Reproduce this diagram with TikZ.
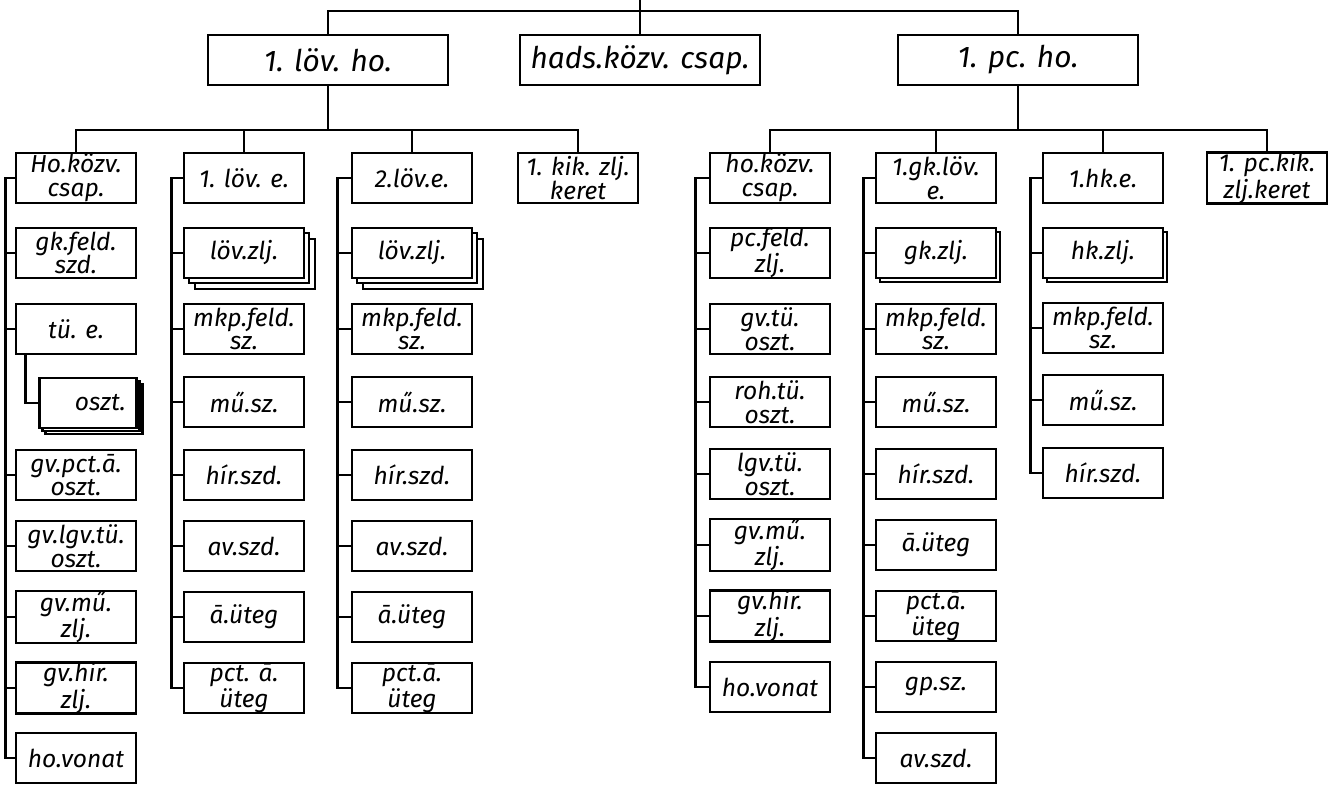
\documentclass[tikz,border=0pt]{standalone}
\usepackage{fontspec}
\setmainfont{Fira Sans}
\usetikzlibrary{shadows}
\tikzset{
  unitbox/.style={rectangle, draw, fill=white, line width=1.6pt,
                  minimum width=2.4cm, minimum height=1cm, inner sep=0pt,
                  align=center, font=\fontsize{14}{13.5}\selectfont\itshape},
  hqbox/.style={unitbox, minimum width=4.8cm,
                font=\fontsize{17}{17}\selectfont\itshape},
  % stacked boxes (several sub-units of the same kind)
  stackbox/.style={unitbox,
                   copy shadow={shadow xshift=2.2mm, shadow yshift=-2.2mm,
                                draw, fill=white, line width=1.6pt},
                   copy shadow={shadow xshift=1mm, shadow yshift=-1mm,
                                draw, fill=white, line width=1.6pt}},
  smallstack/.style={unitbox,
                   copy shadow={shadow xshift=1.2mm, shadow yshift=-1.2mm,
                                draw, fill=white, line width=1.6pt},
                   copy shadow={shadow xshift=0.6mm, shadow yshift=-0.6mm,
                                draw, fill=white, line width=1.6pt}},
  onestack/.style={unitbox,
                   copy shadow={shadow xshift=0.8mm, shadow yshift=-0.8mm,
                                draw, fill=white, line width=1.6pt}},
  link/.style={line width=1.6pt},
}

\begin{document}
\begin{tikzpicture}[x=0.02cm, y=-0.02cm]
  \useasboundingbox (0,0) rectangle (1328,784);

  % Top level
  \node (lovho) at (328,60) [hqbox] {1. löv. ho.};
  \node (hads) at (640,60) [hqbox] {hads.közv. csap.};
  \node (pcho) at (1018,60) [hqbox] {1. pc. ho.};

  \coordinate (root) at (640,0);
  \coordinate (topbar) at (640,11);
  \draw[link] (root) -- (hads.north);
  \draw[link] (lovho.north) |- (topbar) -| (pcho.north);

  % 1. löv. ho. -- first column
  \node (hokozv) at (76,178) [unitbox] {Ho.közv.\\csap.};
  \node (gkfeld) at (76,253) [unitbox] {gk.feld.\\szd.};
  \node (tue) at (76,329) [unitbox] {tü. e.};
  \node (oszt) at (88,403) [smallstack, minimum width=1.94cm] {\quad oszt.};
  \node (gvpct) at (76,475) [unitbox] {gv.pct.ā.\\oszt.};
  \node (gvlgv) at (76,546) [unitbox] {gv.lgv.tü.\\oszt.};
  \node (gvmu) at (76,617) [unitbox] {gv.mű.\\zlj.};
  \node (gvhir) at (76,688) [unitbox] {gv.hir.\\zlj.};
  \node (hovon) at (76,758) [unitbox] {ho.vonat};

  % 1. löv. e.
  \node (love1) at (244,178) [unitbox] {1. löv. e.};
  \node (lovzlj1) at (244,253) [stackbox] {löv.zlj.};
  \node (mkp1) at (244,329) [unitbox] {mkp.feld.\\sz.};
  \node (musz1) at (244,402) [unitbox] {mű.sz.};
  \node (hir1) at (244,475) [unitbox] {hír.szd.};
  \node (av1) at (244,546) [unitbox] {av.szd.};
  \node (aut1) at (244,617) [unitbox] {ā.üteg};
  \node (pct1) at (244,688) [unitbox] {pct. ā.\\üteg};

  % 2. löv. e.
  \node (love2) at (412,178) [unitbox] {2.löv.e.};
  \node (lovzlj2) at (412,253) [stackbox] {löv.zlj.};
  \node (mkp2) at (412,329) [unitbox] {mkp.feld.\\sz.};
  \node (musz2) at (412,402) [unitbox] {mű.sz.};
  \node (hir2) at (412,475) [unitbox] {hír.szd.};
  \node (av2) at (412,546) [unitbox] {av.szd.};
  \node (aut2) at (412,617) [unitbox] {ā.üteg};
  \node (pct2) at (412,688) [unitbox] {pct.ā.\\üteg};

  \node (kik) at (578,178) [unitbox] {1. kik. zlj.\\keret};

  % 1. pc. ho. -- first column
  \node (hokozv2) at (770,178) [unitbox] {ho.közv.\\csap.};
  \node (pcfeld) at (770,253) [unitbox] {pc.feld.\\zlj.};
  \node (gvtu) at (770,329) [unitbox] {gv.tü.\\oszt.};
  \node (rohtu) at (770,402) [unitbox] {roh.tü.\\oszt.};
  \node (lgvtu) at (770,474) [unitbox] {lgv.tü.\\oszt.};
  \node (gvmu2) at (770,545) [unitbox] {gv.mű.\\zlj.};
  \node (gvhir2) at (770,616) [unitbox] {gv.hir.\\zlj.};
  \node (hovon2) at (770,687) [unitbox] {ho.vonat};

  % 1. gk. löv. e.
  \node (gklove) at (936,178) [unitbox] {1.gk.löv.\\e.};
  \node (gkzlj) at (936,253) [onestack] {gk.zlj.};
  \node (mkp3) at (936,329) [unitbox] {mkp.feld.\\sz.};
  \node (musz3) at (936,402) [unitbox] {mű.sz.};
  \node (hir3) at (936,474) [unitbox] {hír.szd.};
  \node (aut3) at (936,545) [unitbox] {ā.üteg};
  \node (pct3) at (936,616) [unitbox] {pct.ā.\\üteg};
  \node (gpsz) at (936,687) [unitbox] {gp.sz.};
  \node (av3) at (936,758) [unitbox] {av.szd.};

  % 1. hk. e.
  \node (hke) at (1103,178) [unitbox] {1.hk.e.};
  \node (hkzlj) at (1103,253) [onestack] {hk.zlj.};
  \node (mkp4) at (1103,328) [unitbox] {mkp.feld.\\sz.};
  \node (musz4) at (1103,400) [unitbox] {mű.sz.};
  \node (hir4) at (1103,473) [unitbox] {hír.szd.};

  \node (pckik) at (1267,178) [unitbox] {1. pc.kik.\\zlj.keret};

  % Second level bars
  \coordinate (lovbar) at (328,130);
  \coordinate (pcbar) at (1018,130);
  \draw[link] (lovho.south) -- (lovbar);
  \draw[link] (hokozv.north) |- (lovbar) -| (kik.north);
  \draw[link] (love1.north) -- (love1.north |- lovbar)
              (love2.north) -- (love2.north |- lovbar);
  \draw[link] (pcho.south) -- (pcbar);
  \draw[link] (hokozv2.north) |- (pcbar) -| (pckik.north);
  \draw[link] (gklove.north) -- (gklove.north |- pcbar)
              (hke.north) -- (hke.north |- pcbar);

  % Column buses
  \draw[link] (hokozv.west) -- ++(-9,0) coordinate (busa) |- (hovon.west);
  \draw[link] (gkfeld.west) -- (gkfeld.west -| busa)
              (tue.west) -- (tue.west -| busa)
              (gvpct.west) -- (gvpct.west -| busa)
              (gvlgv.west) -- (gvlgv.west -| busa)
              (gvmu.west) -- (gvmu.west -| busa)
              (gvhir.west) -- (gvhir.west -| busa);
  \draw[link] ([xshift=2.2mm]tue.south west) |- (oszt.west);

  \draw[link] (love1.west) -- ++(-11,0) coordinate (busb) |- (pct1.west);
  \draw[link] (lovzlj1.west) -- (lovzlj1.west -| busb)
              (mkp1.west) -- (mkp1.west -| busb)
              (musz1.west) -- (musz1.west -| busb)
              (hir1.west) -- (hir1.west -| busb)
              (av1.west) -- (av1.west -| busb)
              (aut1.west) -- (aut1.west -| busb);

  \draw[link] (love2.west) -- ++(-13,0) coordinate (busc) |- (pct2.west);
  \draw[link] (lovzlj2.west) -- (lovzlj2.west -| busc)
              (mkp2.west) -- (mkp2.west -| busc)
              (musz2.west) -- (musz2.west -| busc)
              (hir2.west) -- (hir2.west -| busc)
              (av2.west) -- (av2.west -| busc)
              (aut2.west) -- (aut2.west -| busc);

  \draw[link] (hokozv2.west) -- ++(-13,0) coordinate (buse) |- (hovon2.west);
  \draw[link] (pcfeld.west) -- (pcfeld.west -| buse)
              (gvtu.west) -- (gvtu.west -| buse)
              (rohtu.west) -- (rohtu.west -| buse)
              (lgvtu.west) -- (lgvtu.west -| buse)
              (gvmu2.west) -- (gvmu2.west -| buse)
              (gvhir2.west) -- (gvhir2.west -| buse);

  \draw[link] (gklove.west) -- ++(-11,0) coordinate (busf) |- (av3.west);
  \draw[link] (gkzlj.west) -- (gkzlj.west -| busf)
              (mkp3.west) -- (mkp3.west -| busf)
              (musz3.west) -- (musz3.west -| busf)
              (hir3.west) -- (hir3.west -| busf)
              (aut3.west) -- (aut3.west -| busf)
              (pct3.west) -- (pct3.west -| busf)
              (gpsz.west) -- (gpsz.west -| busf);

  \draw[link] (hke.west) -- ++(-11,0) coordinate (busg) |- (hir4.west);
  \draw[link] (hkzlj.west) -- (hkzlj.west -| busg)
              (mkp4.west) -- (mkp4.west -| busg)
              (musz4.west) -- (musz4.west -| busg);

\end{tikzpicture}
\end{document}
